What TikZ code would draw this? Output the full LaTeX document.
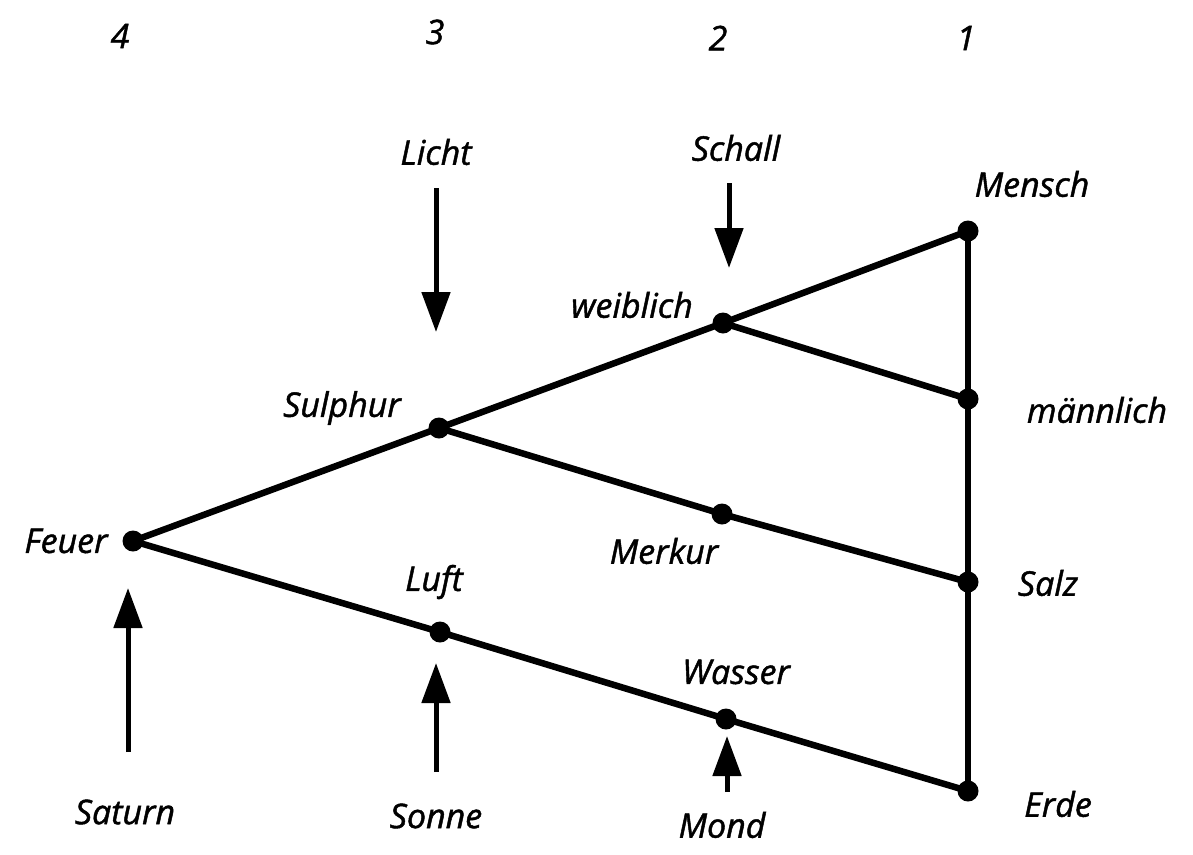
\documentclass[tikz,border=0pt]{standalone}
\usepackage{fontspec}
\setmainfont{Open Sans}[ItalicFeatures={FakeBold=1.3}]
\usetikzlibrary{arrows.meta}
\tikzset{
  dot/.style={circle,fill=black,inner sep=0pt,minimum size=21pt},
  edge/.style={line width=6.5pt,line cap=round},
  arr/.style={line width=5pt,-{Triangle[length=40pt,width=28pt]}},
  lbl/.style={font=\fontsize{34}{38}\selectfont\itshape,inner sep=0pt},
}
\begin{document}
\begin{tikzpicture}[x=1pt,y=-1pt]
\useasboundingbox (0,0) rectangle (1193,854);
\fill[white] (0,0) rectangle (1193,854);
% column numbers
\node[lbl] (n4) at (120,36) {4};
\node[lbl] (n3) at (435,32) {3};
\node[lbl] (n2) at (718,38) {2};
\node[lbl] (n1) at (966,38) {1};
% dots
\node[dot] (feuer) at (133,541) {};
\node[dot] (sulphur) at (439,428) {};
\node[dot] (weiblich) at (723,323) {};
\node[dot] (mensch) at (968,231) {};
\node[dot] (maennlich) at (968,399) {};
\node[dot] (salz) at (968,582) {};
\node[dot] (erde) at (968,791) {};
\node[dot] (merkur) at (722,514) {};
\node[dot] (luft) at (440,632) {};
\node[dot] (wasser) at (726,719) {};
% edges
\draw[edge] (feuer.center) -- (sulphur.center) -- (weiblich.center) -- (mensch.center);
\draw[edge] (mensch.center) -- (maennlich.center) -- (salz.center) -- (erde.center);
\draw[edge] (weiblich.center) -- (maennlich.center);
\draw[edge] (sulphur.center) -- (merkur.center) -- (salz.center);
\draw[edge] (feuer.center) -- (luft.center) -- (wasser.center) -- (erde.center);
% labels
\node[lbl] (tlicht) at (436,152) {Licht};
\node[lbl] (tschall) at (736,148) {Schall};
\node[lbl] (tmensch) at (1032,184) {Mensch};
\node[lbl] (tweiblich) at (632,305) {weiblich};
\node[lbl] (tsulphur) at (342,408) {Sulphur};
\node[lbl] (tmaennlich) at (1097,410) {männlich};
\node[lbl] (tfeuer) at (66,541) {Feuer};
\node[lbl] (tmerkur) at (664,551) {Merkur};
\node[lbl] (tsalz) at (1048,583) {Salz};
\node[lbl] (tluft) at (434,582) {Luft};
\node[lbl] (twasser) at (736,672) {Wasser};
\node[lbl] (tsaturn) at (125,812) {Saturn};
\node[lbl] (tsonne) at (436,816) {Sonne};
\node[lbl] (tmond) at (722,825) {Mond};
\node[lbl] (terde) at (1058,804) {Erde};
% arrows
\coordinate (la) at (436,188); \coordinate (lb) at (436,332);
\coordinate (sa) at (729,183); \coordinate (sb) at (729,268);
\coordinate (ta) at (128,752); \coordinate (tb) at (128,588);
\coordinate (oa) at (436,772); \coordinate (ob) at (436,663);
\coordinate (ma) at (727,792); \coordinate (mb) at (727,736);
\draw[arr] (la) -- (lb);
\draw[arr] (sa) -- (sb);
\draw[arr] (ta) -- (tb);
\draw[arr] (oa) -- (ob);
\draw[arr] (ma) -- (mb);
\end{tikzpicture}
\end{document}
